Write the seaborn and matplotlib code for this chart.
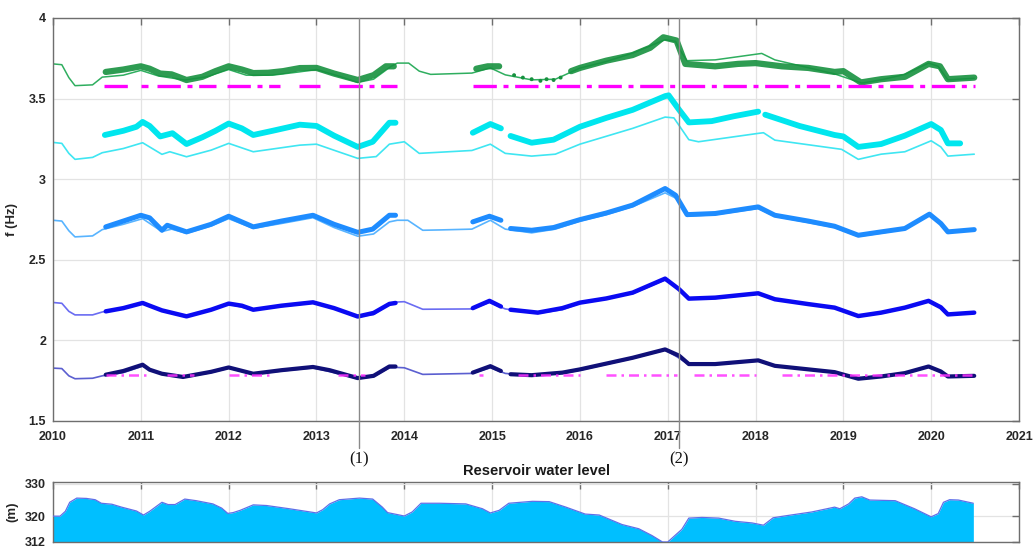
import numpy as np
import pandas as pd
import seaborn as sns
import matplotlib
matplotlib.use("Agg")
import matplotlib.pyplot as plt
from matplotlib.transforms import blended_transform_factory

# ---------------------------------------------------------------- data
# Natural frequencies of the first five modes: model curves (continuous)
green_model_t = [2010.0, 2010.1, 2010.18, 2010.25, 2010.45, 2010.56, 2010.8, 2011.0, 2011.2, 2011.5,
                 2011.75, 2012.0, 2012.2, 2012.5, 2012.8, 2013.0, 2013.25, 2013.47, 2013.65, 2013.85,
                 2013.92, 2014.05, 2014.17, 2014.3, 2014.77, 2014.98, 2015.15, 2015.45, 2015.72, 2016.0,
                 2016.3, 2016.6, 2016.97, 2017.09, 2017.14, 2017.22, 2017.54, 2018.07, 2018.22, 2018.9,
                 2019.21, 2019.43, 2019.7, 2019.97, 2020.08, 2020.19, 2020.49]
green_model_v = [3.715, 3.71, 3.63, 3.58, 3.585, 3.633, 3.645, 3.675, 3.64, 3.615,
                 3.635, 3.68, 3.645, 3.645, 3.665, 3.68, 3.64, 3.60, 3.62, 3.70,
                 3.72, 3.72, 3.67, 3.65, 3.658, 3.69, 3.647, 3.616, 3.62, 3.689,
                 3.73, 3.782, 3.865, 3.855, 3.80, 3.735, 3.74, 3.78, 3.74, 3.653,
                 3.596, 3.616, 3.65, 3.72, 3.70, 3.616, 3.626]

cyan_model_t = [2010.0, 2010.1, 2010.18, 2010.25, 2010.45, 2010.56, 2010.8, 2011.02, 2011.24, 2011.33,
                2011.52, 2011.8, 2012.0, 2012.28, 2012.81, 2013.0, 2013.25, 2013.47, 2013.68, 2013.83,
                2014.0, 2014.17, 2014.77, 2014.98, 2015.15, 2015.45, 2015.72, 2016.0, 2016.6, 2016.97,
                2017.07, 2017.24, 2017.35, 2018.03, 2018.09, 2018.22, 2018.98, 2019.17, 2019.43, 2019.7,
                2020.0, 2020.11, 2020.19, 2020.49]
cyan_model_v = [3.228, 3.222, 3.16, 3.123, 3.135, 3.164, 3.19, 3.226, 3.154, 3.17,
                3.139, 3.18, 3.222, 3.17, 3.211, 3.217, 3.17, 3.129, 3.14, 3.217,
                3.232, 3.16, 3.178, 3.217, 3.16, 3.143, 3.155, 3.217, 3.315, 3.385,
                3.38, 3.245, 3.232, 3.284, 3.288, 3.242, 3.185, 3.123, 3.155, 3.17,
                3.238, 3.20, 3.143, 3.155]

dodger_model_t = [2010.0, 2010.1, 2010.18, 2010.25, 2010.45, 2010.56, 2010.8, 2011.02, 2011.24, 2011.35,
                  2011.52, 2011.8, 2012.0, 2012.28, 2012.6, 2012.96, 2013.2, 2013.47, 2013.65, 2013.83,
                  2013.92, 2014.04, 2014.21, 2014.4, 2014.77, 2014.98, 2015.15, 2015.45, 2015.72, 2016.0,
                  2016.3, 2016.6, 2016.97, 2017.1, 2017.22, 2017.54, 2018.03, 2018.22, 2018.9, 2019.17,
                  2019.43, 2019.7, 2019.98, 2020.11, 2020.19, 2020.49]
dodger_model_v = [2.745, 2.74, 2.68, 2.642, 2.648, 2.687, 2.72, 2.755, 2.675, 2.69,
                  2.664, 2.71, 2.755, 2.695, 2.725, 2.761, 2.70, 2.646, 2.66, 2.735,
                  2.745, 2.745, 2.683, 2.685, 2.69, 2.745, 2.69, 2.667, 2.69, 2.74,
                  2.78, 2.83, 2.915, 2.88, 2.77, 2.78, 2.818, 2.77, 2.70, 2.645,
                  2.665, 2.69, 2.775, 2.72, 2.668, 2.683]

blue_model_t = [2010.0, 2010.1, 2010.18, 2010.25, 2010.45, 2010.56, 2010.8, 2011.02, 2011.24, 2011.52,
                2011.8, 2012.0, 2012.28, 2012.6, 2012.96, 2013.2, 2013.47, 2013.65, 2013.83, 2013.92,
                2014.0, 2014.21, 2014.77, 2014.97, 2015.15, 2015.52, 2015.8, 2016.0, 2016.6, 2016.97,
                2017.1, 2017.24, 2017.54, 2018.03, 2018.22, 2018.9, 2019.17, 2019.43, 2019.7, 2019.97,
                2020.11, 2020.19, 2020.49]
blue_model_v = [2.235, 2.23, 2.18, 2.158, 2.158, 2.176, 2.20, 2.228, 2.185, 2.148,
                2.19, 2.225, 2.19, 2.21, 2.232, 2.20, 2.148, 2.16, 2.225, 2.238,
                2.24, 2.193, 2.195, 2.235, 2.195, 2.168, 2.19, 2.23, 2.29, 2.375,
                2.33, 2.258, 2.26, 2.288, 2.252, 2.20, 2.148, 2.168, 2.20, 2.24,
                2.20, 2.16, 2.17]

navy_model_t = [2010.0, 2010.1, 2010.18, 2010.25, 2010.45, 2010.56, 2010.8, 2011.02, 2011.24, 2011.48,
                2011.8, 2012.0, 2012.28, 2012.6, 2012.96, 2013.2, 2013.47, 2013.65, 2013.83, 2013.92,
                2014.0, 2014.21, 2014.77, 2014.98, 2015.15, 2015.45, 2015.8, 2016.0, 2016.6, 2016.97,
                2017.1, 2017.24, 2017.54, 2018.03, 2018.22, 2018.9, 2019.17, 2019.43, 2019.7, 2019.97,
                2020.11, 2020.19, 2020.49]
navy_model_v = [1.828, 1.825, 1.78, 1.762, 1.765, 1.78, 1.80, 1.84, 1.79, 1.77,
                1.80, 1.828, 1.79, 1.81, 1.83, 1.80, 1.762, 1.775, 1.83, 1.832,
                1.83, 1.789, 1.795, 1.83, 1.795, 1.782, 1.795, 1.815, 1.888, 1.94,
                1.90, 1.85, 1.85, 1.872, 1.84, 1.80, 1.76, 1.775, 1.795, 1.835,
                1.805, 1.776, 1.78]

# Identified (measured) frequencies, one list per monitoring period
green_meas_t = [[2010.6, 2010.8, 2011.0, 2011.1, 2011.22, 2011.35, 2011.52, 2011.7, 2011.85, 2012.0,
                 2012.15, 2012.28, 2012.45, 2012.62, 2012.81, 2013.0, 2013.2, 2013.47, 2013.65, 2013.79, 2013.88],
                [2014.82, 2014.95, 2015.08],
                [2015.9, 2016.0, 2016.3, 2016.6, 2016.8, 2016.95, 2017.1, 2017.2, 2017.54, 2017.8,
                 2018.0, 2018.3, 2018.6, 2018.9, 2019.0, 2019.2, 2019.43, 2019.7, 2019.97, 2020.1,
                 2020.19, 2020.49]]
green_meas_v = [[3.665, 3.68, 3.70, 3.685, 3.655, 3.65, 3.615, 3.635, 3.67, 3.70,
                 3.68, 3.658, 3.66, 3.67, 3.689, 3.69, 3.655, 3.615, 3.645, 3.70, 3.70],
                [3.685, 3.70, 3.70],
                [3.67, 3.69, 3.735, 3.77, 3.815, 3.88, 3.86, 3.715, 3.70, 3.715,
                 3.72, 3.70, 3.69, 3.665, 3.67, 3.60, 3.62, 3.635, 3.715, 3.70,
                 3.62, 3.63]]
green_sparse_t = [2015.25, 2015.35, 2015.45, 2015.55, 2015.62, 2015.7, 2015.78]
green_sparse_v = [3.645, 3.63, 3.62, 3.61, 3.62, 3.615, 3.63]

cyan_meas_t = [[2010.59, 2010.8, 2010.95, 2011.02, 2011.1, 2011.22, 2011.36, 2011.52, 2011.7, 2011.85,
                2012.0, 2012.15, 2012.28, 2012.5, 2012.81, 2013.0, 2013.2, 2013.47, 2013.64, 2013.83, 2013.9],
               [2014.78, 2014.98, 2015.1],
               [2015.21, 2015.45, 2015.7, 2016.0, 2016.3, 2016.6, 2016.97, 2017.01, 2017.13, 2017.24,
                2017.5, 2017.75, 2018.03],
               [2018.11, 2018.5, 2018.9, 2019.0, 2019.17, 2019.43, 2019.7, 2020.0, 2020.11, 2020.19, 2020.33]]
cyan_meas_v = [[3.274, 3.30, 3.325, 3.355, 3.33, 3.265, 3.285, 3.218, 3.26, 3.30,
                3.345, 3.315, 3.274, 3.30, 3.338, 3.33, 3.27, 3.20, 3.232, 3.35, 3.35],
               [3.288, 3.342, 3.315],
               [3.268, 3.226, 3.245, 3.325, 3.38, 3.43, 3.515, 3.52, 3.43, 3.352,
                3.36, 3.39, 3.419],
               [3.40, 3.33, 3.274, 3.265, 3.20, 3.218, 3.27, 3.342, 3.305, 3.222, 3.222]]

dodger_meas_t = [[2010.6, 2010.8, 2011.0, 2011.1, 2011.24, 2011.3, 2011.52, 2011.8, 2012.0, 2012.28,
                  2012.6, 2012.96, 2013.2, 2013.47, 2013.64, 2013.83, 2013.9],
                 [2014.78, 2014.97, 2015.1],
                 [2015.21, 2015.45, 2015.7, 2016.0, 2016.3, 2016.6, 2016.97, 2017.09, 2017.22, 2017.54,
                  2018.03, 2018.22, 2018.6, 2018.9, 2019.17, 2019.43, 2019.7, 2019.98, 2020.11, 2020.19,
                  2020.49]]
dodger_meas_v = [[2.704, 2.74, 2.776, 2.76, 2.683, 2.714, 2.673, 2.72, 2.77, 2.704,
                  2.74, 2.776, 2.72, 2.67, 2.69, 2.776, 2.776],
                 [2.735, 2.77, 2.745],
                 [2.694, 2.683, 2.70, 2.749, 2.79, 2.839, 2.942, 2.90, 2.78, 2.787,
                  2.828, 2.776, 2.74, 2.708, 2.652, 2.673, 2.694, 2.783, 2.725, 2.673,
                  2.687]]

blue_meas_t = [[2010.6, 2010.8, 2011.02, 2011.1, 2011.24, 2011.52, 2011.8, 2012.0, 2012.15, 2012.28,
                2012.6, 2012.96, 2013.2, 2013.47, 2013.65, 2013.83, 2013.9],
               [2014.78, 2014.97, 2015.1],
               [2015.21, 2015.52, 2015.8, 2016.0, 2016.3, 2016.6, 2016.97, 2017.13, 2017.24, 2017.54,
                2018.03, 2018.22, 2018.6, 2018.9, 2019.17, 2019.43, 2019.7, 2019.97, 2020.11, 2020.19,
                2020.49]]
blue_meas_v = [[2.18, 2.20, 2.232, 2.215, 2.186, 2.149, 2.19, 2.228, 2.215, 2.19,
                2.215, 2.236, 2.20, 2.148, 2.17, 2.226, 2.232],
               [2.20, 2.245, 2.21],
               [2.19, 2.172, 2.20, 2.234, 2.26, 2.296, 2.383, 2.317, 2.259, 2.265,
                2.292, 2.255, 2.225, 2.203, 2.151, 2.172, 2.203, 2.245, 2.205, 2.161,
                2.172]]

navy_meas_t = [[2010.6, 2010.8, 2011.02, 2011.1, 2011.24, 2011.48, 2011.8, 2012.0, 2012.28, 2012.6,
                2012.96, 2013.15, 2013.47, 2013.65, 2013.83, 2013.9],
               [2014.78, 2014.98, 2015.1],
               [2015.21, 2015.45, 2015.8, 2016.0, 2016.6, 2016.97, 2017.13, 2017.24, 2017.54, 2018.03,
                2018.22, 2018.9, 2019.17, 2019.43, 2019.7, 2019.97, 2020.11, 2020.19, 2020.49]]
navy_meas_v = [[1.787, 1.81, 1.849, 1.818, 1.793, 1.773, 1.805, 1.832, 1.793, 1.815,
                1.835, 1.815, 1.766, 1.78, 1.838, 1.838],
               [1.80, 1.84, 1.81],
               [1.79, 1.784, 1.80, 1.82, 1.892, 1.944, 1.905, 1.853, 1.853, 1.876,
                1.842, 1.803, 1.762, 1.776, 1.797, 1.838, 1.807, 1.776, 1.78]]

# Reference frequency bands (periods with data)
band_hi_level = 3.578
band_hi_start = [2010.58, 2011.0, 2011.18, 2011.98, 2012.8, 2013.26, 2014.78]
band_hi_end = [2010.92, 2011.08, 2011.86, 2012.58, 2013.04, 2013.92, 2020.5]
band_lo_level = 1.787
band_lo_start = [2010.6, 2011.3, 2012.0, 2013.25, 2014.85, 2015.3, 2016.3, 2017.3, 2018.3]
band_lo_end = [2011.1, 2011.6, 2012.5, 2013.55, 2014.9, 2016.0, 2017.1, 2018.0, 2020.5]

# Reservoir water level (m)
level_t = [2010.0, 2010.08, 2010.14, 2010.19, 2010.27, 2010.38, 2010.48, 2010.55, 2010.67, 2010.78,
           2010.95, 2011.03, 2011.1, 2011.16, 2011.24, 2011.31, 2011.39, 2011.5, 2011.63, 2011.82,
           2011.92, 2011.99, 2012.05, 2012.13, 2012.28, 2012.43, 2012.69, 2013.0, 2013.07, 2013.15,
           2013.26, 2013.49, 2013.64, 2013.75, 2013.81, 2014.0, 2014.09, 2014.19, 2014.4, 2014.7,
           2014.89, 2014.98, 2015.08, 2015.19, 2015.46, 2015.65, 2015.84, 2016.06, 2016.22, 2016.48,
           2016.67, 2016.82, 2016.94, 2017.0, 2017.16, 2017.24, 2017.39, 2017.58, 2017.77, 2017.96,
           2018.09, 2018.2, 2018.34, 2018.64, 2018.9, 2018.96, 2019.06, 2019.13, 2019.21, 2019.3,
           2019.59, 2019.81, 2020.0, 2020.08, 2020.14, 2020.21, 2020.31, 2020.48]
level_v = [320.0, 320.0, 321.5, 324.3, 325.6, 325.5, 325.1, 324.0, 323.7, 322.8,
           321.6, 320.35, 321.5, 322.7, 324.3, 323.6, 323.6, 325.3, 324.8, 323.8,
           322.5, 320.85, 321.1, 321.8, 323.5, 323.3, 322.3, 321.0, 322.0, 323.8,
           325.1, 325.6, 325.3, 322.8, 321.1, 320.05, 321.3, 324.0, 324.0, 323.8,
           322.3, 321.0, 321.8, 324.0, 324.6, 324.5, 322.8, 320.65, 320.35, 317.4,
           316.1, 314.0, 312.0, 312.0, 315.9, 319.4, 319.6, 319.4, 318.4, 317.9,
           317.2, 319.5, 320.1, 321.3, 322.8, 322.3, 323.8, 325.6, 326.0, 325.0,
           324.8, 322.3, 319.8, 320.8, 324.3, 325.1, 325.0, 324.0]

event_t = [2013.48, 2017.13]
event_labels = ["(1)", "(2)"]

year_ticks = list(range(2010, 2022))
freq_ticks = [1.5, 2, 2.5, 3, 3.5, 4]
freq_tick_labels = ["1.5", "2", "2.5", "3", "3.5", "4"]
level_ticks = [312, 320, 330]

# ---------------------------------------------------------------- style
sns.set_theme(style="white")
plt.rcParams["font.family"] = ["Liberation Sans", "DejaVu Sans"]
plt.rcParams["font.weight"] = "bold"

GRID = "#e3e3e3"
SPINE = "#6e6e6e"

fig = plt.figure(figsize=(10.34, 5.49), dpi=100)
ax = fig.add_axes([0.0513, 0.2332, 0.9342, 0.7341])
axb = fig.add_axes([0.0513, 0.0128, 0.9342, 0.1093])


def line(axis, t, v, color, lw, alpha=1.0, ls="-", z=2):
    sns.lineplot(x=t, y=v, ax=axis, color=color, linewidth=lw, alpha=alpha,
                 linestyle=ls, sort=False, estimator=None, legend=False, zorder=z)


# model curves (thin)
line(ax, green_model_t, green_model_v, "#2fae5f", 1.1)
line(ax, cyan_model_t, cyan_model_v, "#3fe6f2", 1.2)
line(ax, dodger_model_t, dodger_model_v, "#58b4ff", 1.2)
line(ax, blue_model_t, blue_model_v, "#6a6cf2", 1.2)
line(ax, navy_model_t, navy_model_v, "#5b5fd0", 1.2)

# identified frequencies (thick bands)
for t, v in zip(green_meas_t, green_meas_v):
    line(ax, t, v, "#17913f", 4.5, alpha=0.9, z=3)
sns.scatterplot(x=green_sparse_t, y=green_sparse_v, ax=ax, color="#17913f", s=8,
                edgecolor="none", legend=False, zorder=3)
for t, v in zip(cyan_meas_t, cyan_meas_v):
    line(ax, t, v, "#00e6ee", 4.2, z=3)
for t, v in zip(dodger_meas_t, dodger_meas_v):
    line(ax, t, v, "#1e8cff", 3.6, z=3)
for t, v in zip(blue_meas_t, blue_meas_v):
    line(ax, t, v, "#0a0af2", 3.2, z=3)
for t, v in zip(navy_meas_t, navy_meas_v):
    line(ax, t, v, "#101078", 3.0, z=3)

# reference bands
for s, e in zip(band_hi_start, band_hi_end):
    line(ax, [s, e], [band_hi_level, band_hi_level], "#ff00ff", 2.4,
         ls=(0, (7, 2, 1.5, 2)), z=4)
for s, e in zip(band_lo_start, band_lo_end):
    line(ax, [s, e], [band_lo_level, band_lo_level], "#ff33ff", 1.8,
         ls=(0, (4, 2, 1, 2)), alpha=0.85, z=4)

# upper panel axes
ax.set_xlim(2010, 2021)
ax.set_ylim(1.5, 4)
ax.set_xticks(year_ticks)
ax.set_xticklabels([str(y) for y in year_ticks])
ax.set_yticks(freq_ticks)
ax.set_yticklabels(freq_tick_labels)
ax.grid(True, color=GRID, linewidth=0.9)
ax.set_ylabel("f (Hz)", fontsize=9.5, fontweight="bold", color="#262626")
ax.yaxis.set_label_coords(-0.036, 0.5)
ax.set_xlabel("")

# event markers
trans = blended_transform_factory(ax.transData, ax.transAxes)
for t, lab in zip(event_t, event_labels):
    ax.plot([t, t], [1.0, -0.068], transform=trans, color="#8a8a8a",
            linewidth=1.0, clip_on=False, zorder=5)
    ax.text(t, -0.095, lab, transform=trans, ha="center", va="center",
            fontsize=12, fontweight="normal", family="Liberation Serif", color="#111111")

# lower panel: reservoir water level
axb.fill_between(level_t, 312, level_v, color="#00bfff", linewidth=0, zorder=2)
line(axb, level_t, level_v, "#5f6fe8", 0.9, z=3)
axb.set_xlim(2010, 2021)
axb.set_ylim(312, 330.6)
axb.set_xticks(year_ticks)
axb.set_xticklabels([])
axb.set_yticks(level_ticks)
axb.set_yticklabels([str(v) for v in level_ticks])
axb.grid(True, color=GRID, linewidth=0.9)
axb.set_ylabel("(m)", fontsize=9.5, fontweight="bold", color="#262626")
axb.yaxis.set_label_coords(-0.036, 0.5)
axb.set_xlabel("")
axb.set_title("Reservoir water level", fontsize=10.5, fontweight="bold",
              color="#1a1a1a", pad=5)

for a in (ax, axb):
    a.tick_params(axis="both", direction="in", length=5, width=1, color=SPINE,
                  top=True, right=True, labelsize=9, labelcolor="#262626", pad=5)
    for lab in a.get_xticklabels() + a.get_yticklabels():
        lab.set_fontweight("bold")
    for sp in a.spines.values():
        sp.set_color(SPINE)
        sp.set_linewidth(1.0)
        sp.set_visible(True)
    a.set_axisbelow(True)
ax.tick_params(axis="x", pad=7)

fig.savefig("out.png", dpi=100, facecolor="white")
